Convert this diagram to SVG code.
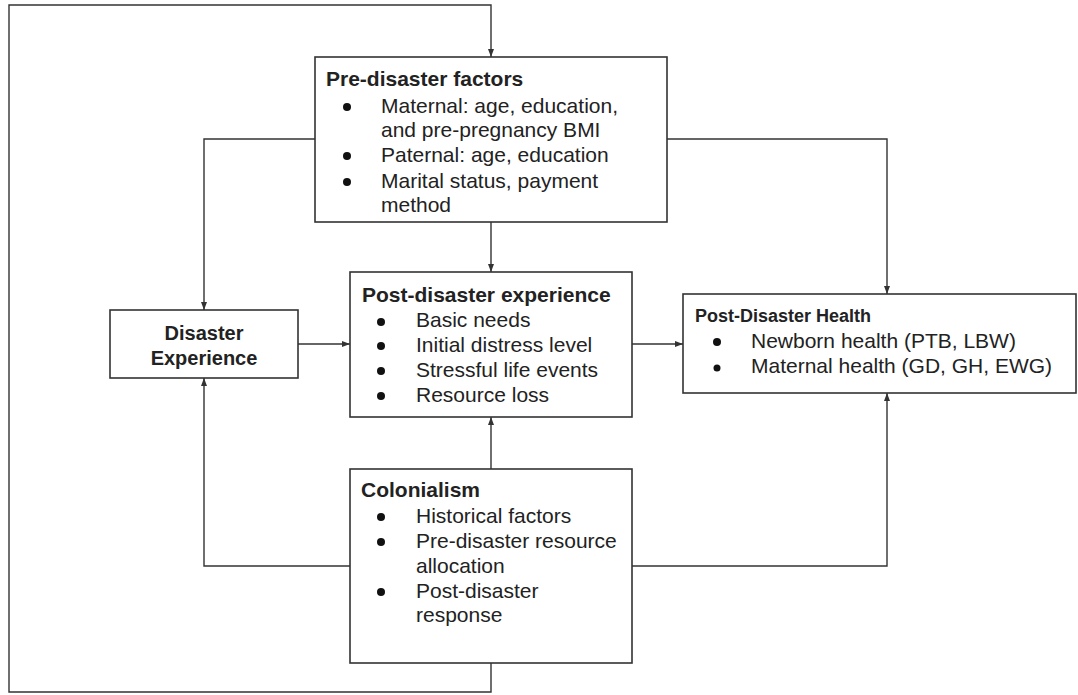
<svg xmlns="http://www.w3.org/2000/svg" width="1078" height="695" viewBox="0 0 1078 695">
<style>
.box{fill:#fff;stroke:#333;stroke-width:1.6}
.ln{fill:none;stroke:#333;stroke-width:1.4}
.t{font-family:"Liberation Sans",Arial,sans-serif;font-size:21px;fill:#222}
.b{font-family:"Liberation Sans",Arial,sans-serif;font-size:21px;font-weight:bold;fill:#222}
.dot{fill:#111}
</style>
<defs>
<marker id="ah" viewBox="0 0 8 8" refX="8" refY="4" markerWidth="8" markerHeight="8" markerUnits="userSpaceOnUse" orient="auto">
<path d="M0,1 L8,4 L0,7 Z" fill="#333"/>
</marker>
</defs>
<rect width="1078" height="695" fill="#fff"/>
<g id="connectors">
<path class="ln" d="M491,663 V692 H9 V5 H491 V57" marker-end="url(#ah)"/>
<path class="ln" d="M491,222 V272" marker-end="url(#ah)"/>
<path class="ln" d="M315,139 H204 V310" marker-end="url(#ah)"/>
<path class="ln" d="M667,139 H887 V294" marker-end="url(#ah)"/>
<path class="ln" d="M298,344 H350" marker-end="url(#ah)"/>
<path class="ln" d="M632,344 H683" marker-end="url(#ah)"/>
<path class="ln" d="M491,469 V417" marker-end="url(#ah)"/>
<path class="ln" d="M350,566 H204 V378" marker-end="url(#ah)"/>
<path class="ln" d="M632,566 H887 V393" marker-end="url(#ah)"/>
</g>
<g id="pre-disaster">
<rect class="box" x="315" y="57" width="352" height="165"/>
<text class="b" x="326" y="86">Pre-disaster factors</text>
<circle class="dot" cx="347" cy="107" r="4"/>
<text class="t" x="381" y="113">Maternal: age, education,</text>
<text class="t" x="381" y="137">and pre-pregnancy BMI</text>
<circle class="dot" cx="347" cy="156" r="4"/>
<text class="t" x="381" y="162">Paternal: age, education</text>
<circle class="dot" cx="347" cy="182" r="4"/>
<text class="t" x="381" y="188">Marital status, payment</text>
<text class="t" x="381" y="212">method</text>
</g>
<g id="disaster-experience">
<rect class="box" x="110" y="310" width="188" height="68"/>
<text class="b" x="204" y="340" text-anchor="middle" style="font-size:20px">Disaster</text>
<text class="b" x="204" y="365" text-anchor="middle" style="font-size:20px">Experience</text>
</g>
<g id="post-disaster-experience">
<rect class="box" x="350" y="272" width="282" height="145"/>
<text class="b" x="362" y="302">Post-disaster experience</text>
<circle class="dot" cx="381" cy="322" r="4"/>
<text class="t" x="416" y="327">Basic needs</text>
<circle class="dot" cx="381" cy="346" r="4"/>
<text class="t" x="416" y="352">Initial distress level</text>
<circle class="dot" cx="381" cy="371" r="4"/>
<text class="t" x="416" y="377">Stressful life events</text>
<circle class="dot" cx="381" cy="396" r="4"/>
<text class="t" x="416" y="402">Resource loss</text>
</g>
<g id="post-disaster-health">
<rect class="box" x="683" y="294" width="393" height="99"/>
<text class="b" x="695" y="322" style="font-size:18px">Post-Disaster Health</text>
<circle class="dot" cx="717" cy="342" r="4"/>
<text class="t" x="751" y="348">Newborn health (PTB, LBW)</text>
<circle class="dot" cx="717" cy="368" r="3.5"/>
<text class="t" x="751" y="373">Maternal health (GD, GH, EWG)</text>
</g>
<g id="colonialism">
<rect class="box" x="350" y="469" width="282" height="194"/>
<text class="b" x="361" y="497">Colonialism</text>
<circle class="dot" cx="381" cy="517" r="4"/>
<text class="t" x="416" y="523">Historical factors</text>
<circle class="dot" cx="381" cy="542" r="4"/>
<text class="t" x="416" y="548">Pre-disaster resource</text>
<text class="t" x="416" y="573">allocation</text>
<circle class="dot" cx="381" cy="592" r="4"/>
<text class="t" x="416" y="598">Post-disaster</text>
<text class="t" x="416" y="622">response</text>
</g>
</svg>
